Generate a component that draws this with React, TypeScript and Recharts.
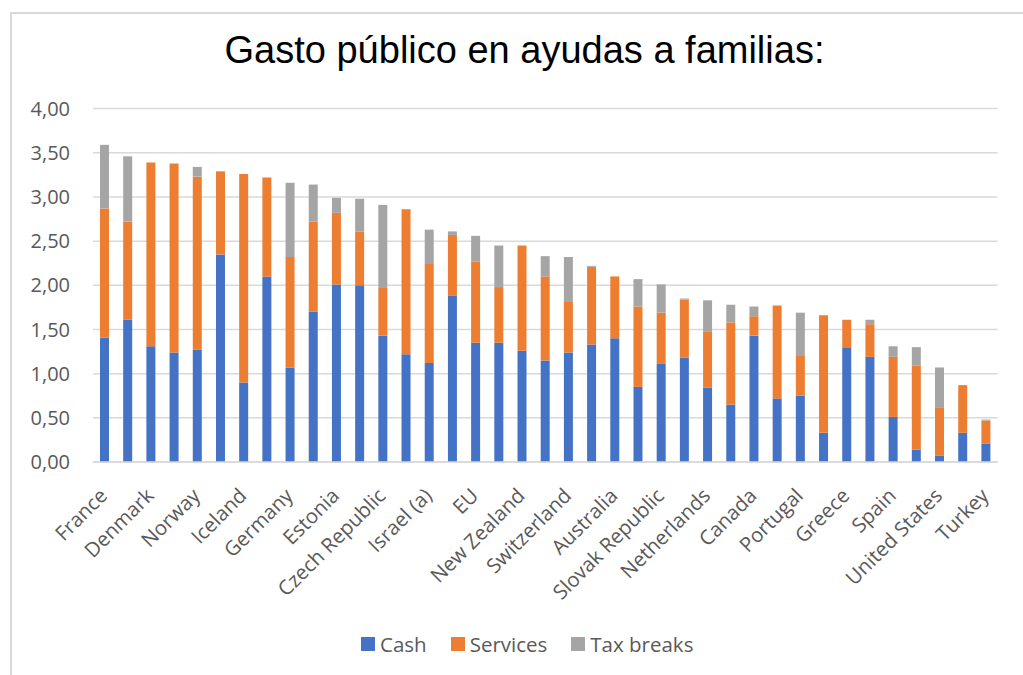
import React from 'react';
import { BarChart, Bar, XAxis, YAxis, CartesianGrid } from 'recharts';

const countries = [
  'France', 'Hungary', 'Denmark', 'Sweden', 'Norway', 'Luxembourg', 'Iceland', 'United Kingdom',
  'Germany', 'Belgium', 'Estonia', 'Austria', 'Czech Republic', 'Finland', 'Israel (a)', 'Ireland',
  'EU', 'Slovenia', 'New Zealand', 'Poland', 'Switzerland', 'Lithuania', 'Australia', 'Italy',
  'Slovak Republic', 'Latvia', 'Netherlands', 'Japan', 'Canada', 'Chile', 'Portugal', 'Korea',
  'Greece', 'OECD', 'Spain', 'Mexico', 'United States', 'Costa Rica', 'Turkey',
];

const cash = [
  1.41, 1.61, 1.31, 1.24, 1.27, 2.35, 0.9, 2.1, 1.07, 1.7, 2.01, 2.0, 1.43, 1.22, 1.12, 1.88,
  1.35, 1.35, 1.26, 1.15, 1.24, 1.33, 1.4, 0.85, 1.11, 1.18, 0.84, 0.65, 1.43, 0.72, 0.75, 0.33,
  1.29, 1.19, 0.51, 0.14, 0.07, 0.33, 0.21,
];

const services = [
  1.46, 1.11, 2.08, 2.14, 1.96, 0.94, 2.36, 1.12, 1.25, 1.02, 0.81, 0.61, 0.54, 1.64, 1.12, 0.69,
  0.92, 0.63, 1.19, 0.95, 0.58, 0.88, 0.7, 0.91, 0.58, 0.66, 0.64, 0.93, 0.22, 1.05, 0.45, 1.33,
  0.32, 0.37, 0.68, 0.95, 0.55, 0.54, 0.26,
];

const taxBreaks = [
  0.72, 0.74, 0, 0, 0.11, 0, 0, 0, 0.84, 0.42, 0.17, 0.37, 0.94, 0, 0.39, 0.04,
  0.29, 0.47, 0, 0.23, 0.5, 0.01, 0, 0.31, 0.32, 0.01, 0.35, 0.2, 0.11, 0, 0.49, 0,
  0, 0.05, 0.12, 0.21, 0.45, 0, 0.01,
];

const yTicks = [0, 0.5, 1, 1.5, 2, 2.5, 3, 3.5, 4];

const series = [
  { key: 'cash', name: 'Cash', color: '#4472C4' },
  { key: 'services', name: 'Services', color: '#ED7D31' },
  { key: 'tax', name: 'Tax breaks', color: '#A5A5A5' },
];

const data = countries.map((country, i) => ({
  country,
  cash: cash[i],
  services: services[i],
  tax: taxBreaks[i],
}));

const FONT = '"Open Sans", sans-serif';
const TEXT = '#595959';

const CountryTick = (props: any) => {
  const { x, y, payload } = props;
  const tx = x + 4;
  const ty = y + 33;
  return (
    <text
      x={tx}
      y={ty}
      textAnchor="end"
      fill={TEXT}
      fontSize={20.3}
      fontFamily={FONT}
      transform={`rotate(-45, ${tx}, ${ty})`}
    >
      {payload.value}
    </text>
  );
};

const App: React.FC = () => {
  return (
    <div
      style={{
        position: 'absolute',
        left: 0,
        top: 0,
        width: 1023,
        height: 675,
        background: '#fff',
        overflow: 'hidden',
      }}
    >
      <div
        style={{
          position: 'absolute',
          left: 10,
          top: 12,
          right: 0,
          bottom: 0,
          borderLeft: '2px solid #d9d9d9',
          borderTop: '2px solid #d9d9d9',
        }}
      />
      <div
        style={{
          position: 'absolute',
          left: 0,
          width: 1049,
          top: 31,
          textAlign: 'center',
          fontFamily: '"Liberation Sans", Arial, sans-serif',
          fontSize: 38,
          lineHeight: '38px',
          color: '#000',
        }}
      >
        Gasto público en ayudas a familias:
      </div>
      <div style={{ position: 'absolute', left: 0, top: 0 }}>
        <BarChart
          width={1023}
          height={675}
          data={data}
          margin={{ top: 108.6, right: 25.4, left: 0, bottom: 63 }}
          barSize={9}
        >
          <CartesianGrid vertical={false} stroke="#d9d9d9" strokeWidth={1.5} />
          <XAxis
            dataKey="country"
            interval={1}
            height={150}
            tick={<CountryTick />}
            tickLine={false}
            tickSize={0}
            axisLine={{ stroke: '#d9d9d9', strokeWidth: 1.5 }}
          />
          <YAxis
            width={93}
            domain={[0, 4]}
            ticks={yTicks}
            interval={0}
            axisLine={false}
            tickLine={false}
            tickSize={0}
            tickMargin={23}
            tick={{ fill: TEXT, fontSize: 20, fontFamily: FONT }}
            tickFormatter={(v: number) => v.toFixed(2).replace('.', ',')}
          />
          {series.map((s) => (
            <Bar
              key={s.key}
              dataKey={s.key}
              name={s.name}
              stackId="a"
              fill={s.color}
              isAnimationActive={false}
            />
          ))}
        </BarChart>
      </div>
      <div
        style={{
          position: 'absolute',
          left: 361,
          top: 634,
          display: 'flex',
          alignItems: 'center',
          fontFamily: FONT,
          fontSize: 20.5,
          lineHeight: '20px',
          color: TEXT,
        }}
      >
        {series.map((s, i) => (
          <div
            key={s.key}
            style={{ display: 'flex', alignItems: 'center', marginRight: i < series.length - 1 ? 24 : 0 }}
          >
            <span style={{ width: 14, height: 14, background: s.color, marginRight: 5, display: 'inline-block' }} />
            <span>{s.name}</span>
          </div>
        ))}
      </div>
    </div>
  );
};

export default App;
